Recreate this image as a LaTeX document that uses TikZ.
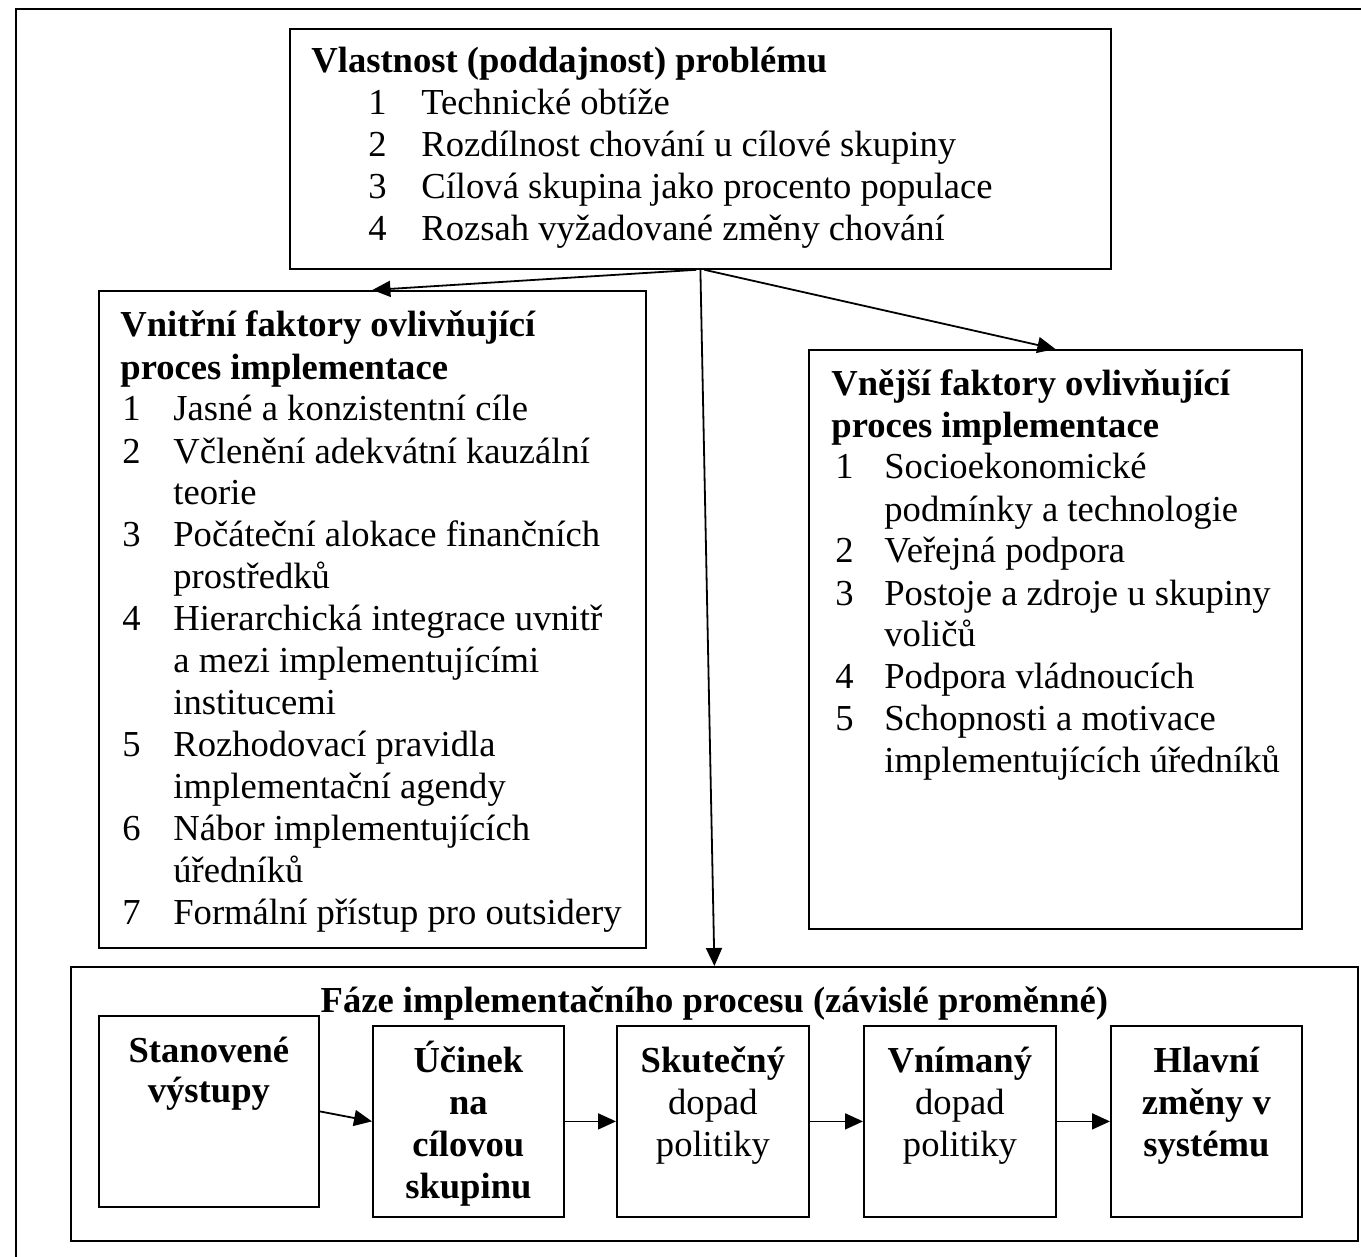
\documentclass[tikz,border=0pt]{standalone}
\usepackage{fontspec}
\setmainfont{Liberation Serif}
\usetikzlibrary{arrows.meta}
\begin{document}
\begin{tikzpicture}[x=0.5pt,y=-0.5pt,
  box/.style={draw, line width=0.9pt, inner sep=0pt, anchor=north west},
  txt/.style={inner sep=0pt, font=\fontsize{18.3}{21}\selectfont},
  arr/.style={line width=0.9pt, -{Triangle[length=9pt,width=8pt]}},
]
\useasboundingbox (0,0) rectangle (1361,1257);
\draw[line width=0.9pt] (1361,9) -- (16,9) -- (16,1257);

% boxes
\node[box, minimum width=410.5pt, minimum height=120pt] (top) at (289,28) {};
\node[box, minimum width=273.5pt, minimum height=328.5pt] (left) at (98,290) {};
\node[box, minimum width=246.5pt, minimum height=289.5pt] (right) at (808,349) {};
\node[box, minimum width=643.5pt, minimum height=137pt] (phase) at (70,966) {};
\node[box, minimum width=110pt, minimum height=95.5pt] (s1) at (98,1015) {};
\node[box, minimum width=95.5pt, minimum height=95.5pt] (s2) at (372,1025) {};
\node[box, minimum width=96pt, minimum height=95.5pt] (s3) at (616,1025) {};
\node[box, minimum width=96pt, minimum height=95.5pt] (s4) at (863,1025) {};
\node[box, minimum width=95.5pt, minimum height=95.5pt] (s5) at (1110,1025) {};

% texts
\node[txt, anchor=base west] (toptxt) at ([xshift=11pt,yshift=-22.5pt]top.north west) {%
\begin{tabular}[t]{@{\hspace{28.5pt}}p{26.5pt}@{}l@{}}
\multicolumn{2}{@{}l@{}}{\bfseries Vlastnost (poddajnost) problému}\\
1 & Technické obtíže\\
2 & Rozdílnost chování u cílové skupiny\\
3 & Cílová skupina jako procento populace\\
4 & Rozsah vyžadované změny chování
\end{tabular}};

\node[txt, anchor=base west] (lefttxt) at ([xshift=11pt,yshift=-23.5pt]left.north west) {%
\begin{tabular}[t]{@{\hspace{1pt}}p{25.5pt}@{}l@{}}
\multicolumn{2}{@{}l@{}}{\bfseries Vnitřní faktory ovlivňující}\\
\multicolumn{2}{@{}l@{}}{\bfseries proces implementace}\\
1 & Jasné a konzistentní cíle\\
2 & Včlenění adekvátní kauzální\\
  & teorie\\
3 & Počáteční alokace finančních\\
  & prostředků\\
4 & Hierarchická integrace uvnitř\\
  & a mezi implementujícími\\
  & institucemi\\
5 & Rozhodovací pravidla\\
  & implementační agendy\\
6 & Nábor implementujících\\
  & úředníků\\
7 & Formální přístup pro outsidery
\end{tabular}};

\node[txt, anchor=base west] (righttxt) at ([xshift=11.5pt,yshift=-23pt]right.north west) {%
\begin{tabular}[t]{@{\hspace{2pt}}p{24.5pt}@{}l@{}}
\multicolumn{2}{@{}l@{}}{\bfseries Vnější faktory ovlivňující}\\
\multicolumn{2}{@{}l@{}}{\bfseries proces implementace}\\
1 & Socioekonomické\\
  & podmínky a technologie\\
2 & Veřejná podpora\\
3 & Postoje a zdroje u skupiny\\
  & voličů\\
4 & Podpora vládnoucích\\
5 & Schopnosti a motivace\\
  & implementujících úředníků
\end{tabular}};

\node[txt, anchor=base] (phasetxt) at ([yshift=-23pt]phase.north) {\bfseries Fáze implementačního procesu (závislé proměnné)};

\node[txt, anchor=base] (s1txt) at ([yshift=-23.5pt]s1.north) {%
\begin{tabular}[t]{@{}c@{}}\bfseries Stanovené\\[-1pt]\bfseries výstupy\end{tabular}};
\node[txt, anchor=base] (s2txt) at ([yshift=-23.5pt]s2.north) {%
\begin{tabular}[t]{@{}c@{}}\bfseries Účinek\\\bfseries na\\\bfseries cílovou\\\bfseries skupinu\end{tabular}};
\node[txt, anchor=base] (s3txt) at ([yshift=-23.5pt]s3.north) {%
\begin{tabular}[t]{@{}c@{}}\bfseries Skutečný\\dopad\\politiky\end{tabular}};
\node[txt, anchor=base] (s4txt) at ([yshift=-23.5pt]s4.north) {%
\begin{tabular}[t]{@{}c@{}}\bfseries Vnímaný\\dopad\\politiky\end{tabular}};
\node[txt, anchor=base] (s5txt) at ([yshift=-23.5pt]s5.north) {%
\begin{tabular}[t]{@{}c@{}}\bfseries Hlavní\\\bfseries změny v\\\bfseries systému\end{tabular}};

% connectors
\draw[arr] ([xshift=-2pt]top.south) -- (left.north);
\draw[arr] ([xshift=2pt]top.south) -- (right.north);
\draw[arr] (top.south) -- (phase.north);
\draw[arr] (s1.east) -- (s2.west);
\draw[arr] (s2.east) -- (s3.west);
\draw[arr] (s3.east) -- (s4.west);
\draw[arr] (s4.east) -- (s5.west);
\end{tikzpicture}
\end{document}
